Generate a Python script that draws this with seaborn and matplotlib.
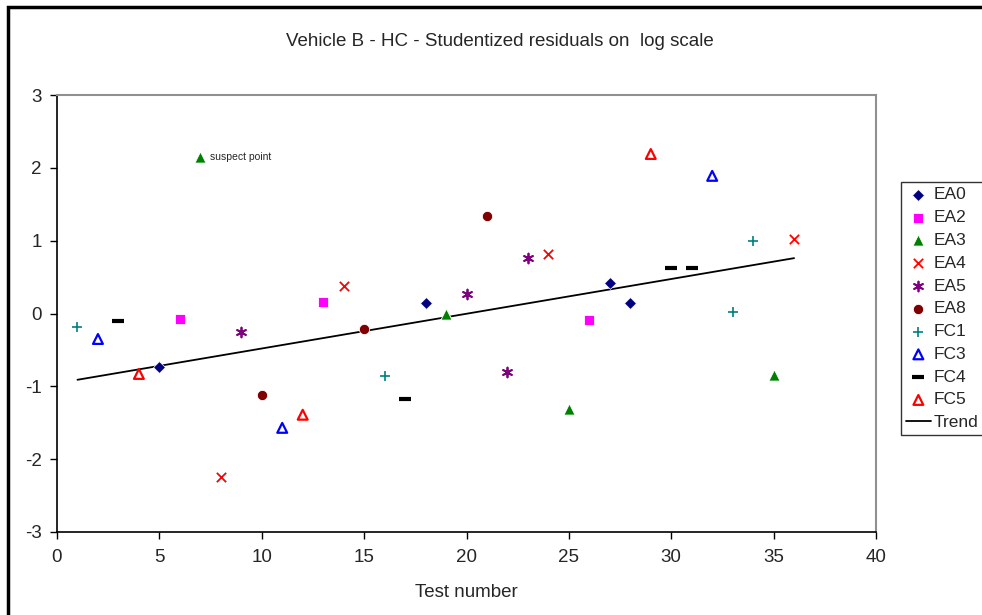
import numpy as np
import matplotlib
matplotlib.use("Agg")
import matplotlib.pyplot as plt
import matplotlib.patches as mpatches
import seaborn as sns

# test number / studentized residual for each group
ea0_x = [5, 18, 27, 28]
ea0_y = [-0.73, 0.14, 0.42, 0.14]
ea2_x = [6, 13, 26]
ea2_y = [-0.08, 0.16, -0.09]
ea3_x = [7, 19, 25, 35]
ea3_y = [2.15, 0.0, -1.31, -0.84]
ea4_x = [8, 14, 24, 36]
ea4_y = [-2.24, 0.38, 0.82, 1.02]
ea5_x = [9, 20, 22, 23]
ea5_y = [-0.25, 0.27, -0.80, 0.76]
ea8_x = [10, 15, 21]
ea8_y = [-1.12, -0.21, 1.34]
fc1_x = [1, 16, 33, 34]
fc1_y = [-0.18, -0.86, 0.02, 1.00]
fc3_x = [2, 11, 32]
fc3_y = [-0.35, -1.57, 1.89]
fc4_x = [3, 17, 30, 31]
fc4_y = [-0.10, -1.17, 0.62, 0.62]
fc5_x = [4, 12, 29]
fc5_y = [-0.83, -1.39, 2.19]

trend_x = [1, 36]
trend_y = [-0.91, 0.76]

sns.set_style("ticks")
plt.rcParams['font.family'] = ['Liberation Sans', 'DejaVu Sans']
plt.rcParams['axes.unicode_minus'] = False

fig = plt.figure(figsize=(9.82, 6.15), dpi=100)
ax = fig.add_axes([57 / 982, 1 - 532 / 615, (876 - 57) / 982, (532 - 95) / 615])

series = [
    ("EA0", ea0_x, ea0_y, dict(marker="D", color="#000080", s=36)),
    ("EA2", ea2_x, ea2_y, dict(marker="s", color="#FF00FF", s=55)),
    ("EA3", ea3_x, ea3_y, dict(marker="^", color="#008000", s=65)),
    ("EA4", ea4_x, ea4_y, dict(marker="x", color="#FF0000", s=45, linewidth=1.3)),
    ("EA5", ea5_x, ea5_y, dict(marker=(6, 2, 0), color="#800080", s=50, linewidth=1.3)),
    ("EA8", ea8_x, ea8_y, dict(marker="o", color="#800000", s=55)),
    ("FC1", fc1_x, fc1_y, dict(marker="+", color="#008080", s=50, linewidth=1.2)),
    ("FC3", fc3_x, fc3_y, dict(marker="^", facecolor="none", edgecolor="#0000FF", s=50, linewidth=1.6)),
    ("FC4", fc4_x, fc4_y, dict(marker="_", color="#000000", s=70, linewidth=3)),
    ("FC5", fc5_x, fc5_y, dict(marker="^", facecolor="none", edgecolor="#FF0000", s=50, linewidth=1.6)),
]

for name, xs, ys, kw in series:
    sns.scatterplot(x=xs, y=ys, ax=ax, label=name, zorder=3, **kw)

sns.lineplot(x=trend_x, y=trend_y, ax=ax, color="black", linewidth=1.3, label="Trend", zorder=2)

ax.text(7.45, 2.15, "suspect point", fontsize=7.5, va="center", ha="left")

ax.set_xlim(0, 40)
ax.set_ylim(-3, 3)
ax.set_xticks(range(0, 41, 5))
ax.set_yticks(range(-3, 4))
ax.tick_params(axis="both", labelsize=13.5, length=5, width=1, color="black", direction="out")
ax.tick_params(axis="x", pad=7)
ax.tick_params(axis="y", pad=6)
ax.set_xlabel("Test number", fontsize=13.5, labelpad=13)
ax.set_ylabel("")

for side in ["left", "bottom"]:
    ax.spines[side].set_color("black")
    ax.spines[side].set_linewidth(1.2)
for side in ["top", "right"]:
    ax.spines[side].set_visible(True)
    ax.spines[side].set_color("#909090")
    ax.spines[side].set_linewidth(1.5)

handles, labels = ax.get_legend_handles_labels()
ax.get_legend().remove()
leg = fig.legend(handles, labels, loc="upper left", bbox_to_anchor=(901 / 982, 1 - 182 / 615),
                 fontsize=12.5, frameon=True, fancybox=False, edgecolor="black",
                 handlelength=1.4, handletextpad=0.2, labelspacing=0.44,
                 borderpad=0.3, borderaxespad=0, scatterpoints=1)
leg.get_frame().set_linewidth(1.0)

fig.text(500 / 982, 1 - 42 / 615, "Vehicle B - HC - Studentized residuals on  log scale",
         fontsize=13.5, ha="center", va="center")

# outer chart border
border = mpatches.Rectangle((8 / 982, -0.1), 1.2, 1.1 - 7 / 615, transform=fig.transFigure,
                            fill=False, edgecolor="black", linewidth=2.5)
fig.patches.append(border)

fig.savefig("out.png", dpi=100)
